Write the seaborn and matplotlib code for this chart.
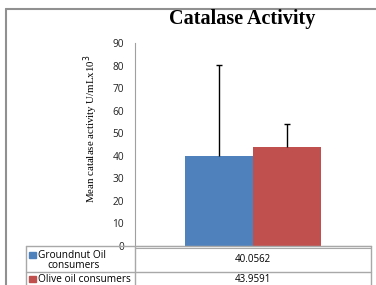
import numpy as np
import pandas as pd
import matplotlib
matplotlib.use('Agg')
import matplotlib.pyplot as plt
import seaborn as sns
from matplotlib.patches import Rectangle
from matplotlib.lines import Line2D

groups = ['Groundnut Oil\nconsumers', 'Olive oil consumers']
means = [40.0562, 43.9591]
upper_err = [40.0, 10.1]
value_labels = ['40.0562', '43.9591']
colors = ['#4F81BD', '#C0504D']
yticks = [0, 10, 20, 30, 40, 50, 60, 70, 80, 90]

sns.set_style('white')
W, H = 376, 285
fig = plt.figure(figsize=(W / 100, H / 100), dpi=100)

def fx(px):
    return px / W

def fy(py):
    return 1 - py / H

ax = fig.add_axes([fx(135), fy(246), fx(371) - fx(135), fy(43) - fy(246)])

df = pd.DataFrame({'cat': ['c', 'c'], 'group': groups, 'mean': means})
sns.barplot(data=df, x='cat', y='mean', hue='group', palette=colors,
            width=0.576, ax=ax, legend=False, errorbar=None, saturation=1,
            linewidth=0)

# upper-only error bars with a cap at the top
for bar, m, e in zip(ax.patches, means, upper_err):
    xc = bar.get_x() + bar.get_width() / 2
    ax.vlines(xc, m, m + e, color='black', lw=1)
    ax.plot([xc], [m + e], marker='_', ms=4, mew=1, color='black')

ax.set_ylim(0, 90)
ax.set_xlim(-0.5, 0.5)
ax.set_yticks(yticks)
ax.set_yticklabels([str(t) for t in yticks], fontsize=7.3, family='Open Sans')
ax.tick_params(axis='y', length=0, pad=8, labelcolor='#202020')
ax.set_xticks([])
ax.set_xlabel('')
ax.set_ylabel('')
for s in ['top', 'right']:
    ax.spines[s].set_visible(False)
ax.spines['left'].set_color('#A0A0A0')
ax.spines['bottom'].set_color('#A0A0A0')
ax.spines['left'].set_linewidth(0.8)
ax.spines['bottom'].set_linewidth(0.8)

fig.text(fx(242), fy(19), 'Catalase Activity', ha='center', va='center',
         fontsize=14.5, fontweight='bold', family='Liberation Serif', color='black')
fig.text(fx(91), fy(129), 'Mean catalase activity U/mLx10$^3$', ha='center', va='center',
         rotation=90, fontsize=7.8, family='Liberation Serif', color='black')

# outer frame
fig.add_artist(Line2D([fx(6), fx(376)], [fy(9), fy(9)], color='#909090', lw=1.5))
fig.add_artist(Line2D([fx(6), fx(6)], [fy(9), fy(285)], color='#909090', lw=1.5))

# data table
tc = '#A8A8A8'
for y in [246, 272]:
    fig.add_artist(Line2D([fx(26), fx(371)], [fy(y), fy(y)], color=tc, lw=1))
fig.add_artist(Line2D([fx(135), fx(371)], [fy(248), fy(248)], color=tc, lw=0.8))
for x in [26, 135, 371]:
    fig.add_artist(Line2D([fx(x), fx(x)], [fy(246), fy(285)], color=tc, lw=1))

rows_y = [259, 279]
label_y = [[255, 266], [279]]
for i, (g, c, v) in enumerate(zip(groups, colors, value_labels)):
    sq_y = label_y[i][0]
    fig.add_artist(Rectangle((fx(29), fy(sq_y + 3)), fx(7), fy(0) - fy(6),
                             color=c, transform=fig.transFigure))
    lines = g.split('\n')
    for j, ln in enumerate(lines):
        xpos = 38 if j == 0 else 47
        fig.text(fx(xpos), fy(label_y[i][j]), ln, ha='left', va='center',
                 fontsize=7.3, family='Open Sans', color='black')
    fig.text(fx(253), fy(rows_y[i]), v, ha='center', va='center',
             fontsize=7, family='Open Sans', color='black')

fig.savefig('out.png', dpi=100)
